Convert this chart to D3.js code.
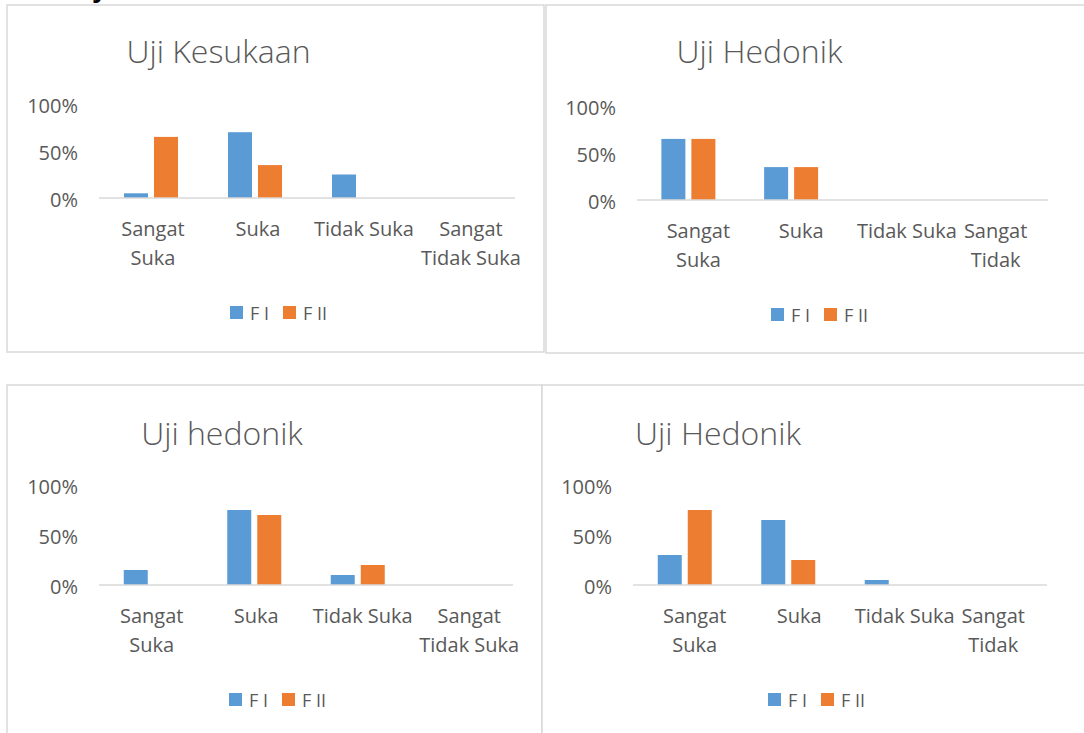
<!DOCTYPE html>
<html>
<head>
<meta charset="utf-8">
<script src="https://cdn.jsdelivr.net/npm/d3@7"></script>
<style>
  html, body { margin: 0; padding: 0; background: #ffffff; }
  svg { display: block; }
  text { font-family: "Open Sans", "Liberation Sans", sans-serif; fill: #595959; }
</style>
</head>
<body>
<svg id="chart" width="1084" height="733"></svg>
<script>
// ---------- data ----------
const categories = ["Sangat Suka", "Suka", "Tidak Suka", "Sangat Tidak Suka"];
const seriesNames = ["F I", "F II"];
const titles = ["Uji Kesukaan", "Uji Hedonik", "Uji hedonik", "Uji Hedonik"];
const yTickValues = [0, 50, 100];
const yTickLabels = ["0%", "50%", "100%"];
const labelLinesWide = [["Sangat", "Suka"], ["Suka"], ["Tidak Suka"], ["Sangat", "Tidak Suka"]];
const labelLinesNarrow = [["Sangat", "Suka"], ["Suka"], ["Tidak Suka"], ["Sangat", "Tidak"]];

const kesukaanFI  = [5, 70, 25, 0];
const kesukaanFII = [65, 35, 0, 0];
const hedonikAFI  = [65, 35, 0, 0];
const hedonikAFII = [65, 35, 0, 0];
const hedonikBFI  = [15, 75, 10, 0];
const hedonikBFII = [0, 70, 20, 0];
const hedonikCFI  = [30, 65, 5, 0];
const hedonikCFII = [75, 25, 0, 0];

const colors = ["#5B9BD5", "#ED7D31"];

// ---------- layout ----------
const panels = [
  { rect: [7, 5, 537, 347], x0: 99, x1: 515, axisY: 198, h: 94, titleX: 218.5, titleY: 63, legendX: 230,
    labels: labelLinesWide, labelDx: [2, 3, 5, 8], values: [kesukaanFI, kesukaanFII], title: titles[0] },
  { rect: [546, 5, 600, 348], x0: 637, x1: 1048, axisY: 200, h: 94, titleX: 759.5, titleY: 63, legendX: 771,
    labels: labelLinesNarrow, labelDx: [10, 10, 13, -1], values: [hedonikAFI, hedonikAFII], title: titles[1] },
  { rect: [7, 385, 535, 400], x0: 99, x1: 513, axisY: 585, h: 100, titleX: 222, titleY: 445, legendX: 229,
    labels: labelLinesWide, labelDx: [1, 2, 5, 8], values: [hedonikBFI, hedonikBFII], title: titles[2] },
  { rect: [542, 385, 600, 400], x0: 633, x1: 1047, axisY: 585, h: 100, titleX: 718, titleY: 445, legendX: 768,
    labels: labelLinesNarrow, labelDx: [10, 11, 13, -2], values: [hedonikCFI, hedonikCFII], title: titles[3] }
];

const svg = d3.select("#chart");
svg.append("rect").attr("width", 1084).attr("height", 733).attr("fill", "#fff");

// cut-off heading text at the very top (only its descender shows in the reference)
svg.append("text").attr("x", 92).attr("y", -3)
  .style("font-family", "'Liberation Sans', sans-serif")
  .style("font-weight", "bold").style("font-size", "28px").style("fill", "#000")
  .text("y");

panels.forEach(p => {
  const g = svg.append("g");
  g.append("rect")
    .attr("x", p.rect[0]).attr("y", p.rect[1]).attr("width", p.rect[2]).attr("height", p.rect[3])
    .attr("fill", "#fff").attr("stroke", "#D9D9D9").attr("stroke-width", 1.5);

  g.append("text").attr("x", p.titleX).attr("y", p.titleY)
    .attr("text-anchor", "middle").style("font-size", "32px").style("font-weight", 300).text(p.title);

  const x0 = d3.scaleBand().domain(categories).range([p.x0, p.x1]).padding(0);
  const groupW = 54;
  const x1 = d3.scaleBand().domain(seriesNames).range([0, groupW]).paddingInner(0.2);
  const y = d3.scaleLinear().domain([0, 100]).range([p.axisY, p.axisY - p.h]);

  // y tick labels
  g.selectAll(".ytick").data(yTickValues).enter().append("text")
    .attr("x", p.x0 - 21).attr("y", d => y(d) + 9)
    .attr("text-anchor", "end").style("font-size", "20px")
    .text((d, i) => yTickLabels[i]);

  // bars
  seriesNames.forEach((s, si) => {
    g.selectAll(".bar" + si).data(p.values[si]).enter().append("rect")
      .attr("x", (d, i) => x0(categories[i]) + (x0.bandwidth() - groupW) / 2 + x1(s))
      .attr("y", d => y(d))
      .attr("width", x1.bandwidth())
      .attr("height", d => y(0) - y(d))
      .attr("fill", colors[si]);
  });

  // axis line
  g.append("line").attr("x1", p.x0).attr("x2", p.x1)
    .attr("y1", p.axisY).attr("y2", p.axisY)
    .attr("stroke", "#D9D9D9").attr("stroke-width", 1.5);

  // category labels
  categories.forEach((c, i) => {
    const t = g.append("text")
      .attr("x", x0(c) + x0.bandwidth() / 2 + p.labelDx[i])
      .attr("y", p.axisY + 38)
      .attr("text-anchor", "middle").style("font-size", "20px");
    p.labels[i].forEach((line, li) => {
      t.append("tspan").attr("x", x0(c) + x0.bandwidth() / 2 + p.labelDx[i])
        .attr("dy", li === 0 ? 0 : 28.5).text(line);
    });
  });

  // legend
  let lx = p.legendX;
  const ly = p.axisY + 108;
  seriesNames.forEach((s, si) => {
    g.append("rect").attr("x", lx).attr("y", ly).attr("width", 13).attr("height", 13).attr("fill", colors[si]);
    const t = g.append("text").attr("x", lx + 20).attr("y", ly + 14)
      .style("font-size", "18px").text(s);
    lx += 20 + t.node().getComputedTextLength() + 14;
  });
});
</script>
</body>
</html>
